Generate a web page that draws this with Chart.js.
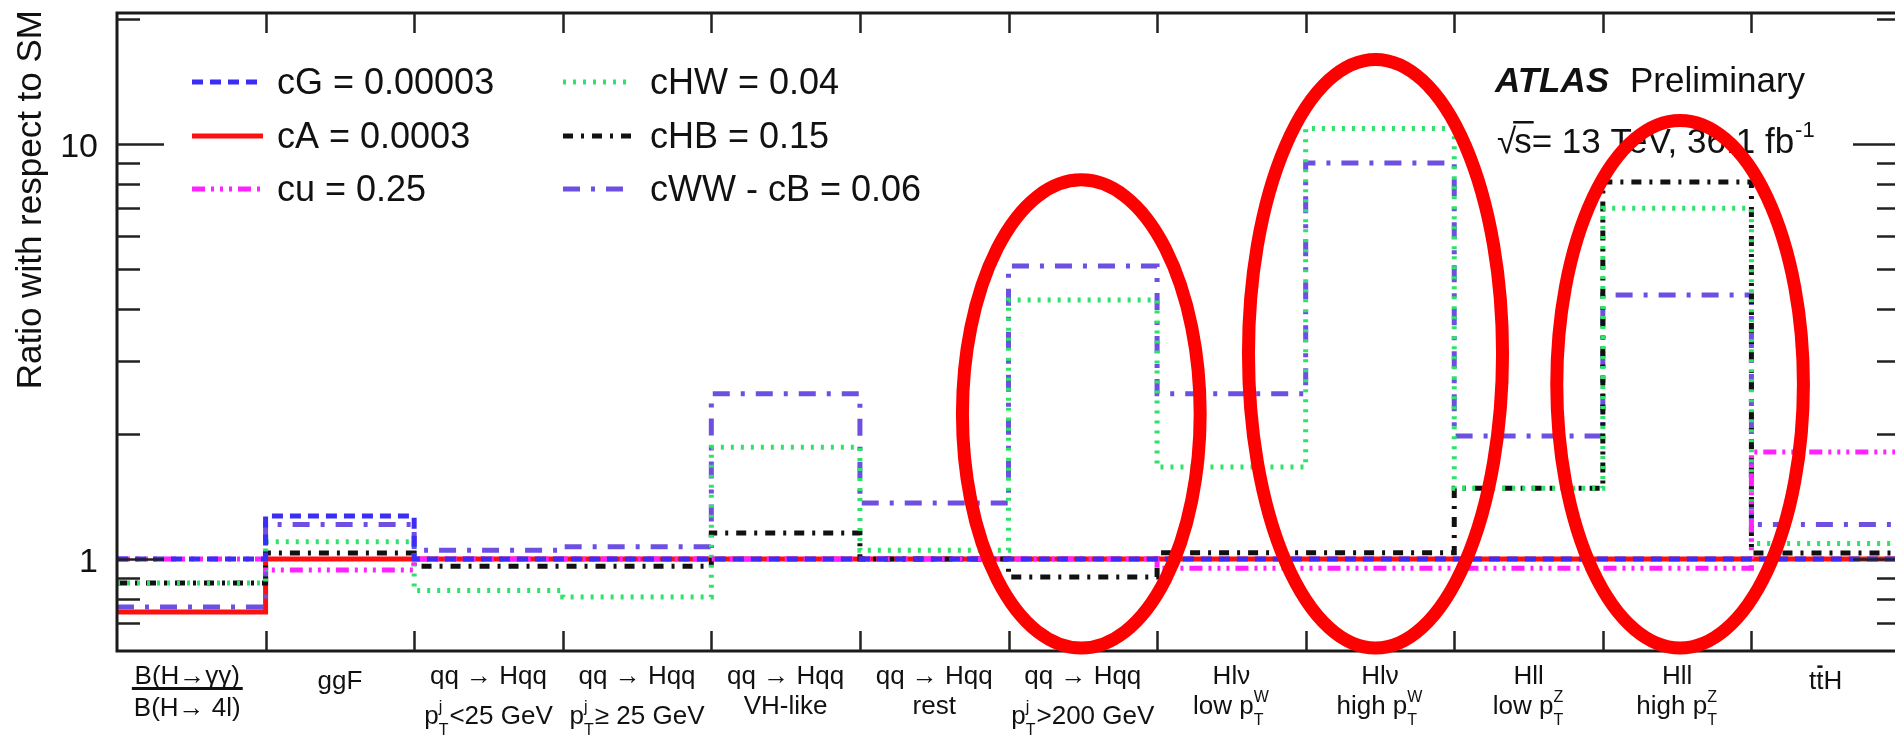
<!DOCTYPE html>
<html><head><meta charset="utf-8">
<script src="https://cdn.jsdelivr.net/npm/chart.js@4.4.0/dist/chart.umd.min.js"></script>
<style>html,body{margin:0;padding:0;overflow:hidden;background:#fff}canvas{display:block}</style>
</head><body>
<canvas id="c" width="1905" height="738"></canvas>
<script>
// ---------------- data ----------------
const categoriesTop = ["B(H→γγ)", "ggF", "qq → Hqq", "qq → Hqq", "qq → Hqq", "qq → Hqq", "qq → Hqq", "Hlν", "Hlν", "Hll", "Hll", "t#bar{t}H"];
const categoriesBottom = ["B(H→ 4l)", "", "p_{T}^{j}<25 GeV", "p_{T}^{j}≥ 25 GeV", "VH-like", "rest", "p_{T}^{j}>200 GeV", "low p_{T}^{W}", "high p_{T}^{W}", "low p_{T}^{Z}", "high p_{T}^{Z}", ""];
const seriesNames = ["cG = 0.00003", "cA = 0.0003", "cu = 0.25", "cHW = 0.04", "cHB = 0.15", "cWW - cB = 0.06"];
const cG  = [1.00, 1.27, 1.00, 1.00, 1.00, 1.00, 1.00, 1.00, 1.00, 1.00, 1.00, 1.00];
const cA  = [0.745, 1.00, 1.00, 1.00, 1.00, 1.00, 1.00, 1.00, 1.00, 1.00, 1.00, 1.00];
const cu  = [1.00, 0.94, 1.00, 1.00, 1.00, 1.00, 1.00, 0.95, 0.95, 0.95, 0.95, 1.81];
const cHW = [0.875, 1.10, 0.84, 0.81, 1.86, 1.05, 4.21, 1.665, 10.9, 1.48, 7.0, 1.09];
const cHB = [0.875, 1.034, 0.96, 0.96, 1.155, 1.00, 0.905, 1.035, 1.035, 1.48, 8.1, 1.034];
const cWWcB = [0.766, 1.21, 1.05, 1.07, 2.50, 1.365, 5.08, 2.50, 9.0, 1.98, 4.33, 1.21];
const yMajorTicks = [1, 10];
const yMinorTicks = [0.7, 0.8, 0.9, 2, 3, 4, 5, 6, 7, 8, 9, 20];
const yTitle = "Ratio with respect to SM";
const ellipseCenterBin = [6.49, 8.47, 10.52];
const ellipseHalfWidthBins = [0.80, 0.855, 0.83];
const ellipseTopValue = [8.2, 16.0, 11.4];
const ellipseBottomValue = [0.61, 0.61, 0.61];

// ---------------- styling ----------------
const FONT = '"Liberation Sans", Arial, Helvetica, sans-serif';
const styles = [
  {color: '#3b2cf6', dash: [11, 7]},
  {color: '#ff1010', dash: []},
  {color: '#ff22ff', dash: [13, 6, 3, 6, 3, 6, 3, 6]},
  {color: '#2fe36a', dash: [3, 7]},
  {color: '#111111', dash: [10, 8, 3, 8]},
  {color: '#6d4fe2', dash: [17, 11, 4, 11]}
];
const seriesValues = [cG, cA, cu, cHW, cHB, cWWcB];

function stepPoints(vals) {
  const pts = vals.map((v, i) => ({x: i, y: v}));
  pts.push({x: vals.length, y: vals[vals.length - 1]});
  return pts;
}

const datasets = seriesValues.map((vals, i) => ({
  label: seriesNames[i],
  data: stepPoints(vals),
  borderColor: styles[i].color,
  borderDash: styles[i].dash,
  borderWidth: 5,
  borderCapStyle: 'butt',
  stepped: 'before',
  pointRadius: 0,
  fill: false,
  order: i === 1 ? 1 : 0
}));

// ---------------- rich text helpers ----------------
function parseRich(s) {
  const out = []; let i = 0; let buf = '';
  while (i < s.length) {
    if (s.startsWith('#bar{', i)) {
      if (buf) { out.push({t: 'n', s: buf}); buf = ''; }
      const end = s.indexOf('}', i);
      out.push({t: 'bar', s: s.slice(i + 5, end)});
      i = end + 1;
    } else if ((s[i] === '_' || s[i] === '^') && s[i + 1] === '{') {
      if (buf) { out.push({t: 'n', s: buf}); buf = ''; }
      let sub = '', sup = '';
      while (i < s.length && (s[i] === '_' || s[i] === '^') && s[i + 1] === '{') {
        const kind = s[i]; const end = s.indexOf('}', i);
        const content = s.slice(i + 2, end);
        if (kind === '_') sub = content; else sup = content;
        i = end + 1;
      }
      out.push({t: 'ss', sub, sup});
    } else { buf += s[i]; i++; }
  }
  if (buf) out.push({t: 'n', s: buf});
  return out;
}
function drawRich(ctx, s, cx, baseline, size, color) {
  const toks = parseRich(s);
  const small = Math.round(size * 0.62);
  const fMain = size + 'px ' + FONT, fSmall = small + 'px ' + FONT;
  let total = 0;
  toks.forEach(t => {
    if (t.t === 'ss') { ctx.font = fSmall; t.w = Math.max(ctx.measureText(t.sub).width, ctx.measureText(t.sup).width) + 1; }
    else { ctx.font = fMain; t.w = ctx.measureText(t.s).width; }
    total += t.w;
  });
  let x = cx - total / 2;
  ctx.fillStyle = color; ctx.strokeStyle = color;
  ctx.textAlign = 'left'; ctx.textBaseline = 'alphabetic';
  toks.forEach(t => {
    if (t.t === 'ss') {
      ctx.font = fSmall;
      if (t.sup) ctx.fillText(t.sup, x, baseline - size * 0.48);
      if (t.sub) ctx.fillText(t.sub, x, baseline + size * 0.42);
    } else {
      ctx.font = fMain;
      ctx.fillText(t.s, x, baseline);
      if (t.t === 'bar') {
        ctx.lineWidth = 2.5; ctx.beginPath();
        ctx.moveTo(x + 1, baseline - size * 0.86); ctx.lineTo(x + t.w - 1, baseline - size * 0.86); ctx.stroke();
      }
    }
    x += t.w;
  });
  return total;
}

// ---------------- decorations plugin ----------------
const decorations = {
  id: 'decorations',
  afterDatasetsDraw(chart) {
    const ctx = chart.ctx, a = chart.chartArea;
    const xs = chart.scales.x, ys = chart.scales.y;
    ctx.save();
    // frame
    ctx.strokeStyle = '#1a1a1a'; ctx.lineWidth = 3;
    ctx.strokeRect(a.left, a.top, a.right - a.left, a.bottom - a.top);
    // x ticks (inside, bottom and top)
    ctx.lineWidth = 2.5; ctx.strokeStyle = '#222';
    for (let i = 1; i < categoriesTop.length; i++) {
      const px = Math.round(xs.getPixelForValue(i)) + 0.5;
      ctx.beginPath();
      ctx.moveTo(px, a.bottom); ctx.lineTo(px, a.bottom - 20);
      ctx.moveTo(px, a.top); ctx.lineTo(px, a.top + 20);
      ctx.stroke();
    }
    // y ticks (left and right)
    const yTick = (v, len) => {
      const py = Math.round(ys.getPixelForValue(v)) + 0.5;
      ctx.beginPath();
      ctx.moveTo(a.left, py); ctx.lineTo(a.left + len, py);
      ctx.moveTo(a.right, py); ctx.lineTo(a.right - len, py);
      ctx.stroke();
    };
    yMajorTicks.forEach(v => yTick(v, 47));
    yMinorTicks.forEach(v => yTick(v, 23));
    // y tick labels
    ctx.fillStyle = '#111'; ctx.font = '34px ' + FONT;
    ctx.textAlign = 'right'; ctx.textBaseline = 'middle';
    yMajorTicks.forEach(v => ctx.fillText(String(v), a.left - 19, ys.getPixelForValue(v) + 4));
    // y title
    ctx.save();
    ctx.translate(31, 10); ctx.rotate(-Math.PI / 2);
    ctx.font = '35px ' + FONT; ctx.textAlign = 'right'; ctx.textBaseline = 'middle';
    ctx.fillText(yTitle, 0, 0);
    ctx.restore();
    // x category labels
    for (let i = 0; i < categoriesTop.length; i++) {
      const cx = xs.getPixelForValue(i + 0.5);
      if (i === 0) {
        ctx.font = '26px ' + FONT;
        const w = Math.max(ctx.measureText(categoriesTop[0]).width, ctx.measureText(categoriesBottom[0]).width);
        drawRich(ctx, categoriesTop[0], cx - 4, 684, 26, '#111');
        ctx.fillStyle = '#111'; ctx.fillRect(cx - 4 - w / 2 - 2, 687, w + 4, 3);
        drawRich(ctx, categoriesBottom[0], cx - 4, 716, 26, '#111');
      } else if (!categoriesBottom[i]) {
        drawRich(ctx, categoriesTop[i], cx, 689, 26, '#111');
      } else {
        drawRich(ctx, categoriesTop[i], cx, 684, 26, '#111');
        const hasSup = categoriesBottom[i].indexOf('^{j}') >= 0;
        drawRich(ctx, categoriesBottom[i], cx, hasSup ? 724 : 714, 26, '#111');
      }
    }
    // legend (two columns)
    const legX = [[192, 263, 277], [563, 632, 650]];
    const legY = [82, 136, 189];
    chart.data.datasets.forEach((ds, i) => {
      const col = Math.floor(i / 3), row = i % 3;
      const [x0, x1, tx] = legX[col]; const y = legY[row];
      ctx.save();
      ctx.strokeStyle = ds.borderColor; ctx.lineWidth = 5; ctx.lineCap = 'butt';
      ctx.setLineDash(ds.borderDash);
      ctx.beginPath(); ctx.moveTo(x0, y); ctx.lineTo(x1, y); ctx.stroke();
      ctx.restore();
      ctx.fillStyle = '#111'; ctx.font = '36px ' + FONT;
      ctx.textAlign = 'left'; ctx.textBaseline = 'middle';
      ctx.fillText(ds.label, tx, y + 2);
    });
    // ATLAS label
    ctx.textAlign = 'left'; ctx.textBaseline = 'alphabetic'; ctx.fillStyle = '#111';
    ctx.font = 'italic bold 35px ' + FONT;
    ctx.fillText('ATLAS', 1495, 92);
    ctx.font = '35px ' + FONT;
    ctx.fillText('Preliminary', 1630, 92);
    // sqrt(s) line
    let x = 1497;
    ctx.font = '35px ' + FONT;
    ctx.fillText('√', x, 153); x += ctx.measureText('√').width - 2;
    const sw = ctx.measureText('s').width;
    ctx.fillText('s', x, 153);
    ctx.fillRect(x - 1, 121, sw + 3, 2.5);
    x += sw;
    const main = '= 13 TeV, 36.1 fb';
    ctx.fillText(main, x, 153); x += ctx.measureText(main).width;
    ctx.font = '22px ' + FONT;
    ctx.fillText('-1', x + 1, 137);
    ctx.restore();
  },
  afterDraw(chart) {
    const ctx = chart.ctx, xs = chart.scales.x, ys = chart.scales.y;
    ctx.save();
    ctx.strokeStyle = '#ff0000'; ctx.lineWidth = 13;
    ellipseCenterBin.forEach((c, i) => {
      const cx = xs.getPixelForValue(c);
      const rx = xs.getPixelForValue(c + ellipseHalfWidthBins[i]) - cx;
      const top = ys.getPixelForValue(ellipseTopValue[i]);
      const bot = ys.getPixelForValue(ellipseBottomValue[i]);
      ctx.beginPath();
      ctx.ellipse(cx, (top + bot) / 2, rx, (bot - top) / 2, 0, 0, Math.PI * 2);
      ctx.stroke();
    });
    ctx.restore();
  }
};

new Chart(document.getElementById('c'), {
  type: 'line',
  data: {datasets},
  options: {
    responsive: false,
    animation: false,
    devicePixelRatio: 1,
    layout: {padding: {left: 117, top: 13, right: 5, bottom: 87}},
    scales: {
      x: {type: 'linear', min: 0, max: categoriesTop.length, display: false},
      y: {type: 'logarithmic', min: 0.6, max: 20.7, display: false}
    },
    plugins: {legend: {display: false}, tooltip: {enabled: false}},
    elements: {point: {radius: 0}}
  },
  plugins: [decorations]
});
</script>
</body></html>
